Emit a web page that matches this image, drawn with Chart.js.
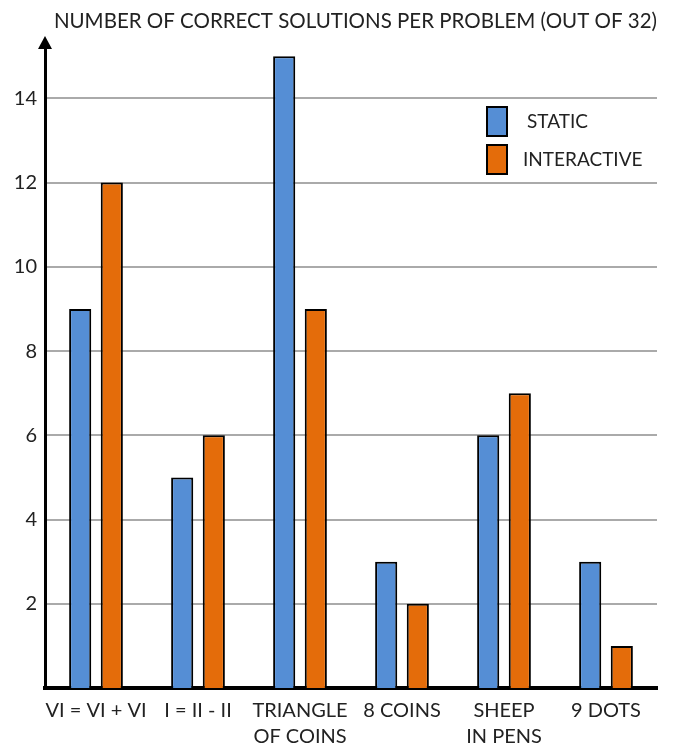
<!DOCTYPE html>
<html lang="en">
<head>
    <meta charset="UTF-8">
    <title>Correct Solutions per Problem</title>
    <script src="https://cdn.jsdelivr.net/npm/chart.js"></script>
    <style>
        html, body { margin: 0; padding: 0; background: #fff; }
        #wrap { width: 678px; height: 747px; }
    </style>
</head>
<body>
    <div id="wrap"><canvas id="solutionsChart"></canvas></div>

    <script>
        // Chart data
        const problems = ['VI = VI + VI', 'I = II - II', ['TRIANGLE', 'OF COINS'], '8 COINS', ['SHEEP', 'IN PENS'], '9 DOTS'];
        const staticSolved = [9, 5, 15, 3, 6, 3];
        const interactiveSolved = [12, 6, 9, 2, 7, 1];
        const yTicks = [2, 4, 6, 8, 10, 12, 14];

        const FONT = 'Lato, "Open Sans", sans-serif';

        // y axis arrow + legend inside the plot
        const extras = {
            id: 'extras',
            afterDraw(chart) {
                const ctx = chart.ctx;
                const area = chart.chartArea;
                ctx.save();
                // arrow head on the y axis
                ctx.fillStyle = '#000';
                ctx.beginPath();
                ctx.moveTo(area.left, 36);
                ctx.lineTo(area.left - 7, 49);
                ctx.lineTo(area.left + 7, 49);
                ctx.closePath();
                ctx.fill();
                ctx.fillRect(area.left - 1.5, 45, 3, area.top - 45 + 2);

                // legend
                ctx.font = '19px ' + FONT;
                ctx.textBaseline = 'middle';
                chart.data.datasets.forEach((ds, i) => {
                    const y = 107 + i * 38;
                    ctx.fillStyle = ds.backgroundColor;
                    ctx.fillRect(487, y, 20, 29);
                    ctx.strokeStyle = '#000';
                    ctx.lineWidth = 2;
                    ctx.strokeRect(487, y, 20, 29);
                    ctx.fillStyle = '#222';
                    ctx.fillText(ds.label, i === 0 ? 527 : 523, y + 15);
                });
                ctx.restore();
            }
        };

        new Chart(document.getElementById('solutionsChart'), {
            type: 'bar',
            data: {
                labels: problems,
                datasets: [{
                    label: 'STATIC',
                    data: staticSolved,
                    backgroundColor: '#558ED5',
                    borderColor: '#000',
                    borderWidth: 2,
                    barPercentage: 0.7,
                    categoryPercentage: 0.62
                }, {
                    label: 'INTERACTIVE',
                    data: interactiveSolved,
                    backgroundColor: '#E46C0A',
                    borderColor: '#000',
                    borderWidth: 2,
                    barPercentage: 0.7,
                    categoryPercentage: 0.62
                }]
            },
            options: {
                responsive: true,
                maintainAspectRatio: false,
                animation: false,
                layout: { padding: { left: 0, right: 21, bottom: 0, top: 0 } },
                plugins: {
                    legend: { display: false },
                    tooltip: { enabled: false },
                    title: {
                        display: true,
                        text: 'NUMBER OF CORRECT SOLUTIONS PER PROBLEM (OUT OF 32)',
                        align: 'end',
                        color: '#222',
                        font: { family: FONT, size: 20.5, weight: 'normal', lineHeight: 1.2 },
                        padding: { top: 9, bottom: 10 }
                    }
                },
                scales: {
                    x: {
                        grid: { display: false },
                        border: { color: '#000', width: 4 },
                        ticks: {
                            color: '#222',
                            padding: 2,
                            maxRotation: 0,
                            autoSkip: false,
                            font: { family: FONT, size: 20, lineHeight: 1.3 }
                        },
                        afterFit(scale) { scale.height = 59; }
                    },
                    y: {
                        min: 0,
                        max: 15.3,
                        border: { color: '#000', width: 3 },
                        grid: { color: '#aaa', lineWidth: 2, drawTicks: false },
                        afterBuildTicks(scale) {
                            scale.ticks = yTicks.map(v => ({ value: v }));
                        },
                        ticks: {
                            color: '#222',
                            padding: 8,
                            font: { family: FONT, size: 20 }
                        },
                        afterFit(scale) { scale.width = 45; }
                    }
                }
            },
            plugins: [extras]
        });
    </script>
</body>
</html>
